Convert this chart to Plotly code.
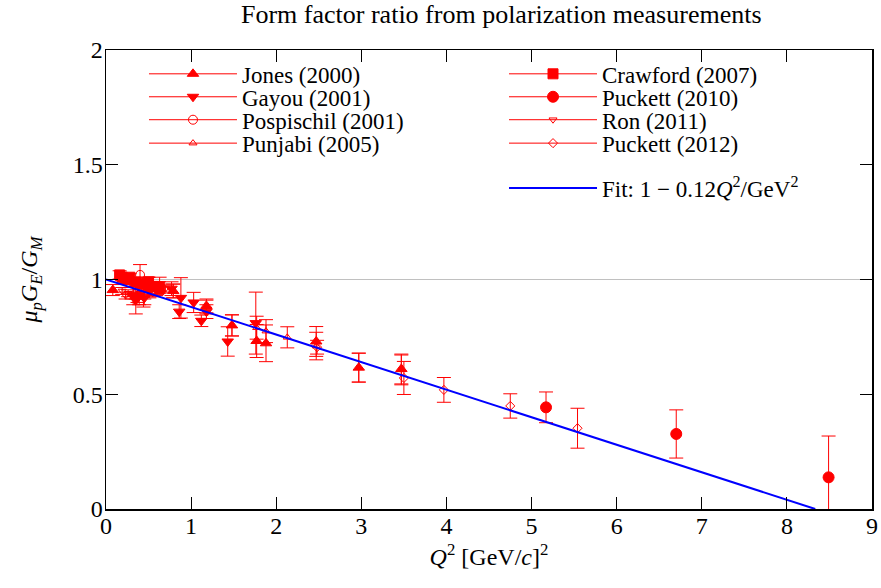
import plotly.graph_objects as go

# ---- data ----
jones_x = [0.08, 0.49, 0.79, 1.18, 1.48, 1.77, 1.88, 2.47, 2.97, 3.47]
jones_y = [0.954, 0.98, 0.95, 0.885, 0.80, 0.732, 0.722, 0.73, 0.616, 0.61]
jones_e = [0.024, 0.03, 0.03, 0.03, 0.046, 0.072, 0.08, 0.065, 0.063, 0.065]

gayou_x = [0.32, 0.35, 0.39, 0.45, 0.51, 0.59, 0.63, 0.77, 0.86, 0.88, 1.03, 1.12, 1.18, 1.43, 1.76]
gayou_y = [0.93, 0.91, 0.93, 0.92, 0.95, 0.96, 0.98, 0.96, 0.86, 0.92, 0.90, 0.82, 0.86, 0.73, 0.81]
gayou_e = [0.04, 0.06, 0.04, 0.03, 0.03, 0.03, 0.03, 0.03, 0.03, 0.088, 0.044, 0.025, 0.03, 0.064, 0.135]

posp_x = [0.37, 0.40, 0.44]
posp_y = [0.95, 1.02, 0.93]
posp_e = [0.05, 0.045, 0.05]

punj_x = [0.49, 0.79, 1.18, 1.48, 1.77, 1.88, 2.13, 2.47, 2.97, 3.47]
punj_y = [0.98, 0.95, 0.88, 0.80, 0.79, 0.775, 0.748, 0.71, 0.616, 0.606]
punj_e = [0.03, 0.03, 0.03, 0.046, 0.05, 0.05, 0.046, 0.06, 0.063, 0.065]

craw_x = [0.16, 0.19, 0.23, 0.28, 0.35, 0.42, 0.50, 0.57, 0.63]
craw_y = [1.02, 1.01, 1.00, 1.01, 0.99, 0.98, 0.99, 0.97, 0.96]
craw_e = [0.018, 0.015, 0.015, 0.015, 0.015, 0.015, 0.02, 0.02, 0.02]

puck10_x = [5.17, 6.70, 8.49]
puck10_y = [0.443, 0.327, 0.138]
puck10_e = [0.067, 0.105, 0.18]

ron_x = [0.19, 0.23, 0.26, 0.30, 0.35, 0.40, 0.45, 0.50, 0.55, 0.60, 0.70]
ron_y = [0.95, 0.93, 0.94, 0.93, 0.93, 0.94, 0.93, 0.95, 0.94, 0.95, 0.96]
ron_e = [0.015, 0.015, 0.015, 0.015, 0.015, 0.015, 0.015, 0.015, 0.015, 0.015, 0.015]

puck12_x = [2.48, 3.50, 3.97, 4.75, 5.54]
puck12_y = [0.705, 0.571, 0.519, 0.449, 0.352]
puck12_e = [0.03, 0.072, 0.054, 0.053, 0.087]

fit_intercept = 1.0
fit_slope = -0.12

RED = "#ff0000"
FONT = "Liberation Serif"
FS = 24
LFS = 23

series = [
    ("Jones (2000)", jones_x, jones_y, jones_e, "triangle-up", 10),
    ("Gayou (2001)", gayou_x, gayou_y, gayou_e, "triangle-down", 10),
    ("Pospischil (2001)", posp_x, posp_y, posp_e, "circle-open", 9),
    ("Punjabi (2005)", punj_x, punj_y, punj_e, "triangle-up-open", 7),
    ("Crawford (2007)", craw_x, craw_y, craw_e, "square", 10),
    ("Puckett (2010)", puck10_x, puck10_y, puck10_e, "circle", 11),
    ("Ron (2011)", ron_x, ron_y, ron_e, "triangle-down-open", 7),
    ("Puckett (2012)", puck12_x, puck12_y, puck12_e, "diamond-open", 7),
]

# legend placement: one single-entry legend per row (column x, row y in paper coords)
legend_pos = [
    (0.0496, 0.948), (0.0496, 0.898), (0.0496, 0.848), (0.0496, 0.797),
    (0.5196, 0.948), (0.5196, 0.898), (0.5196, 0.848), (0.5196, 0.797),
    (0.5196, 0.699),
]
legend_ids = ["legend"] + ["legend%d" % i for i in range(2, 10)]

fig = go.Figure()
for name, xs, ys, es, sym, sz in series:
    fig.add_trace(go.Scatter(
        x=xs, y=ys, mode="markers", name=name, showlegend=False,
        marker=dict(symbol=sym, size=sz, color=RED, line=dict(color=RED, width=1)),
        error_y=dict(type="data", array=es, visible=True, color=RED, thickness=1, width=7),
    ))
# legend-only entries
for (name, xs, ys, es, sym, sz), lg in zip(series, legend_ids):
    fig.add_trace(go.Scatter(
        x=[None], y=[None], mode="lines+markers", name=name, legend=lg,
        line=dict(color=RED, width=1),
        marker=dict(symbol=sym, size=sz, color=RED, line=dict(color=RED, width=1)),
    ))

fit_x = [0, -fit_intercept / fit_slope]
fit_y = [fit_intercept + fit_slope * v for v in fit_x]
fig.add_trace(go.Scatter(
    x=fit_x, y=fit_y, mode="lines",
    name="Fit: 1 − 0.12<i>Q</i><sup>2</sup>/GeV<sup>2</sup>",
    legend=legend_ids[8], line=dict(color="#0000ff", width=2),
))

fig.add_shape(type="line", xref="paper", x0=0, x1=1, yref="y", y0=1, y1=1,
              line=dict(color="#c0c0c0", width=1), layer="below")

legend_layout = {}
for lg, (lx, ly) in zip(legend_ids, legend_pos):
    legend_layout[lg] = dict(x=lx, y=ly, xanchor="left", yanchor="middle",
                             bgcolor="rgba(0,0,0,0)", borderwidth=0,
                             font=dict(family=FONT, size=LFS, color="black"),
                             itemwidth=88, tracegroupgap=0)

axis_common = dict(showgrid=False, zeroline=False, automargin=False,
                   showline=True, linecolor="black", linewidth=1.5, mirror="ticks",
                   ticks="inside", ticklen=12, tickcolor="black", tickwidth=1,
                   tickfont=dict(family=FONT, size=FS, color="black"))
fig.update_layout(
    width=881, height=588,
    margin=dict(l=106, r=9, t=50, b=79, autoexpand=False),
    paper_bgcolor="white", plot_bgcolor="white",
    hovermode=False,
    title=dict(text="Form factor ratio from polarization measurements", x=0.569, xanchor="center",
               xref="container", yref="container", y=0.976, yanchor="middle",
               font=dict(family=FONT, size=26, color="black")),
    font=dict(family=FONT, size=FS, color="black"),
    xaxis=dict(range=[0, 9], dtick=1, tick0=0, ticklabelstandoff=-5,
               title=dict(text="<i>Q</i><sup>2</sup> [GeV/<i>c</i>]<sup>2</sup>", standoff=10,
                          font=dict(family=FONT, size=FS)),
               **axis_common),
    yaxis=dict(range=[0, 2], dtick=0.5, tick0=0, ticklabelstandoff=-3,
               title=dict(text="<i>μ<sub>p</sub>G<sub>E</sub></i>/<i>G<sub>M</sub></i>", standoff=28,
                          font=dict(family=FONT, size=FS)),
               **axis_common),
    **legend_layout,
)

fig.write_html("out.html", config={"displayModeBar": False, "staticPlot": True},
               post_script="document.body.style.margin='0';")
